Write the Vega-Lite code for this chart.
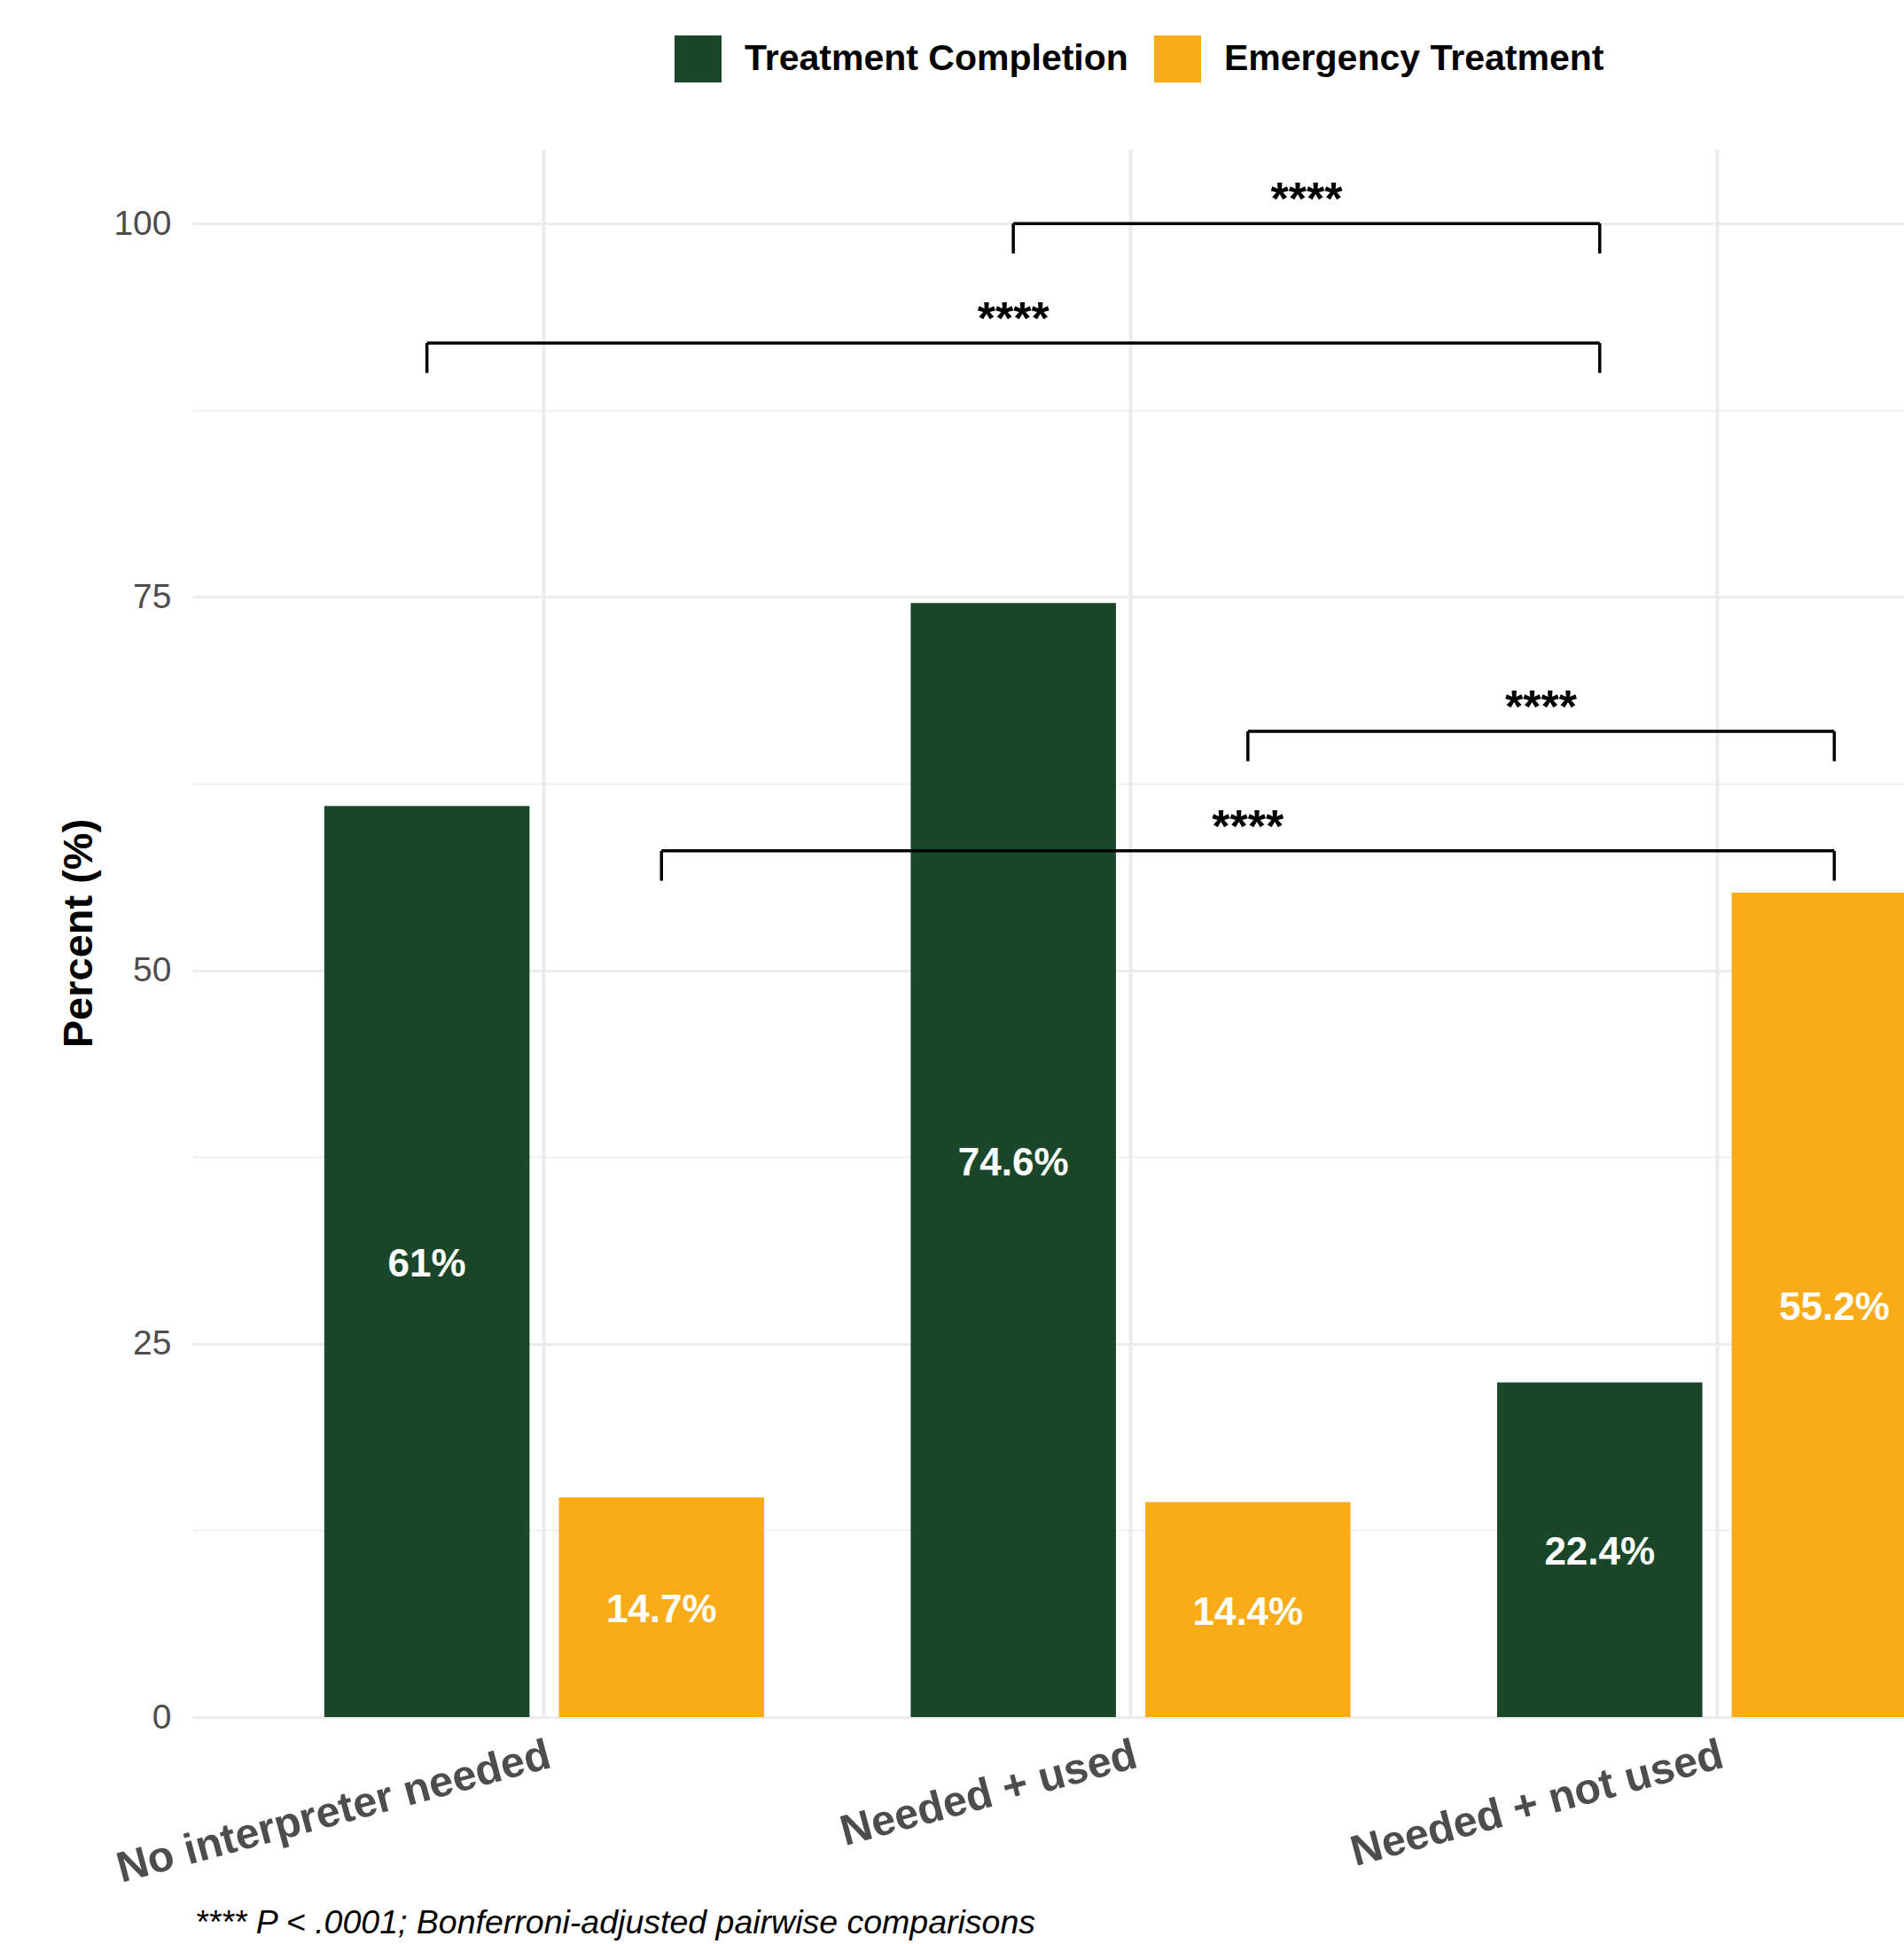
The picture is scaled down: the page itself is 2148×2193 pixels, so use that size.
{
  "$schema": "https://vega.github.io/schema/vega-lite/v6.json",
  "width": 1931,
  "height": 1769,
  "autosize": {"type": "none"},
  "padding": {"left": 217, "top": 168, "right": 0, "bottom": 256},
  "background": "white",
  "config": {
    "view": {"stroke": null},
    "font": "Liberation Sans"
  },
  "datasets": {
    "bars": [
      {"group": "No interpreter needed", "measure": "Treatment Completion", "value": 61.0, "label": "61%"},
      {"group": "No interpreter needed", "measure": "Emergency Treatment", "value": 14.7, "label": "14.7%"},
      {"group": "Needed + used", "measure": "Treatment Completion", "value": 74.6, "label": "74.6%"},
      {"group": "Needed + used", "measure": "Emergency Treatment", "value": 14.4, "label": "14.4%"},
      {"group": "Needed + not used", "measure": "Treatment Completion", "value": 22.4, "label": "22.4%"},
      {"group": "Needed + not used", "measure": "Emergency Treatment", "value": 55.2, "label": "55.2%"}
    ],
    "brackets": [
      {"xmin": 1.8, "xmax": 2.8, "xmid": 2.3, "y": 100, "tip": 98, "label": "****"},
      {"xmin": 0.8, "xmax": 2.8, "xmid": 1.8, "y": 92, "tip": 90, "label": "****"},
      {"xmin": 2.2, "xmax": 3.2, "xmid": 2.7, "y": 66, "tip": 64, "label": "****"},
      {"xmin": 1.2, "xmax": 3.2, "xmid": 2.2, "y": 58, "tip": 56, "label": "****"}
    ]
  },
  "title": {
    "text": "**** P < .0001; Bonferroni-adjusted pairwise comparisons",
    "orient": "bottom",
    "anchor": "start",
    "frame": "group",
    "fontSize": 37.5,
    "fontStyle": "italic",
    "fontWeight": "normal",
    "color": "black",
    "baseline": "top",
    "offset": 19,
    "dx": 3
  },
  "layer": [
    {
      "data": {"name": "bars"},
      "mark": {"type": "bar"},
      "encoding": {
        "x": {
          "field": "group", "type": "nominal",
          "sort": ["No interpreter needed", "Needed + used", "Needed + not used"],
          "scale": {"range": [0, 2117], "paddingInner": 0, "paddingOuter": 0.1},
          "axis": {
            "title": null, "grid": true, "gridColor": "#EBEBEB", "gridWidth": 4,
            "domain": false, "ticks": false, "bandPosition": 0.5,
            "labelAngle": -15, "labelAlign": "right", "labelBaseline": "top",
            "labelFontSize": 48.5, "labelFontWeight": "bold", "labelFontStyle": "normal",
            "labelColor": "#4D4D4D", "labelPadding": 19, "labelLimit": 2000, "labelOverlap": false
          }
        },
        "xOffset": {
          "field": "measure", "type": "nominal",
          "sort": ["Treatment Completion", "Emergency Treatment"],
          "scale": {"paddingInner": 0.125, "paddingOuter": 0.3125}
        },
        "y": {
          "field": "value", "type": "quantitative",
          "scale": {"domain": [0, 105], "nice": false},
          "axis": {
            "values": [0, 25, 50, 75, 100], "title": "Percent (%)",
            "grid": true, "gridColor": "#EBEBEB", "gridWidth": 3,
            "domain": false, "ticks": false, "tickSize": 0,
            "labelFontSize": 39, "labelColor": "#4D4D4D", "labelPadding": 24,
            "titleFontSize": 47, "titleFontWeight": "bold", "titleColor": "black",
            "titleX": -114, "titleY": 884.5, "titleAngle": 270,
            "titleAlign": "center", "titleBaseline": "alphabetic"
          }
        },
        "color": {
          "field": "measure", "type": "nominal",
          "sort": ["Treatment Completion", "Emergency Treatment"],
          "scale": {"domain": ["Treatment Completion", "Emergency Treatment"], "range": ["#1A4729", "#F9AC17"]},
          "legend": {
            "orient": "none", "legendX": 544, "legendY": -128, "direction": "horizontal",
            "title": null, "symbolType": "square", "symbolSize": 2809, "symbolStrokeWidth": 0,
            "symbolOpacity": 1,
            "labelFontSize": 41, "labelFontWeight": "bold", "labelColor": "black",
            "labelOffset": 26, "columnPadding": 29, "padding": 0, "labelLimit": 2000
          }
        }
      }
    },
    {
      "data": {"name": "bars"},
      "mark": {"type": "text", "color": "white", "fontSize": 44, "fontWeight": "bold", "baseline": "middle", "align": "center", "dy": 4},
      "encoding": {
        "x": {
          "field": "group", "type": "nominal",
          "sort": ["No interpreter needed", "Needed + used", "Needed + not used"],
          "scale": {"range": [0, 2117], "paddingInner": 0, "paddingOuter": 0.1},
          "axis": null
        },
        "xOffset": {
          "field": "measure", "type": "nominal",
          "sort": ["Treatment Completion", "Emergency Treatment"],
          "scale": {"paddingInner": 0.125, "paddingOuter": 0.3125}
        },
        "y": {
          "field": "value", "type": "quantitative",
          "scale": {"domain": [0, 210], "nice": false},
          "axis": null
        },
        "text": {"field": "label", "type": "nominal"}
      }
    },
    {
      "data": {"name": "brackets"},
      "mark": {"type": "rule", "color": "black", "strokeWidth": 3.5},
      "encoding": {
        "x": {"field": "xmin", "type": "quantitative", "scale": {"domain": [0.4, 3.3189], "nice": false, "zero": false}, "axis": null},
        "x2": {"field": "xmax"},
        "y": {
          "field": "y", "type": "quantitative",
          "scale": {"domain": [0, 105], "nice": false},
          "axis": {
            "orient": "right", "values": [12.5, 37.5, 62.5, 87.5], "grid": true,
            "gridColor": "#EBEBEB", "gridWidth": 1.5, "labels": false, "ticks": false,
            "domain": false, "title": null
          }
        }
      }
    },
    {
      "data": {"name": "brackets"},
      "mark": {"type": "rule", "color": "black", "strokeWidth": 3.5},
      "encoding": {
        "x": {"field": "xmin", "type": "quantitative", "scale": {"domain": [0.4, 3.3189], "nice": false, "zero": false}, "axis": null},
        "y": {"field": "y", "type": "quantitative", "scale": {"domain": [0, 105], "nice": false}, "axis": null},
        "y2": {"field": "tip"}
      }
    },
    {
      "data": {"name": "brackets"},
      "mark": {"type": "rule", "color": "black", "strokeWidth": 3.5},
      "encoding": {
        "x": {"field": "xmax", "type": "quantitative", "scale": {"domain": [0.4, 3.3189], "nice": false, "zero": false}, "axis": null},
        "y": {"field": "y", "type": "quantitative", "scale": {"domain": [0, 105], "nice": false}, "axis": null},
        "y2": {"field": "tip"}
      }
    },
    {
      "data": {"name": "brackets"},
      "mark": {"type": "text", "color": "black", "fontSize": 52, "fontWeight": "bold", "baseline": "alphabetic", "align": "center", "dy": -10},
      "encoding": {
        "x": {"field": "xmid", "type": "quantitative", "scale": {"domain": [0.4, 3.3189], "nice": false, "zero": false}, "axis": null},
        "y": {"field": "y", "type": "quantitative", "scale": {"domain": [0, 105], "nice": false}, "axis": null},
        "text": {"field": "label", "type": "nominal"}
      }
    }
  ],
  "resolve": {"scale": {"x": "independent", "y": "independent"}}
}
